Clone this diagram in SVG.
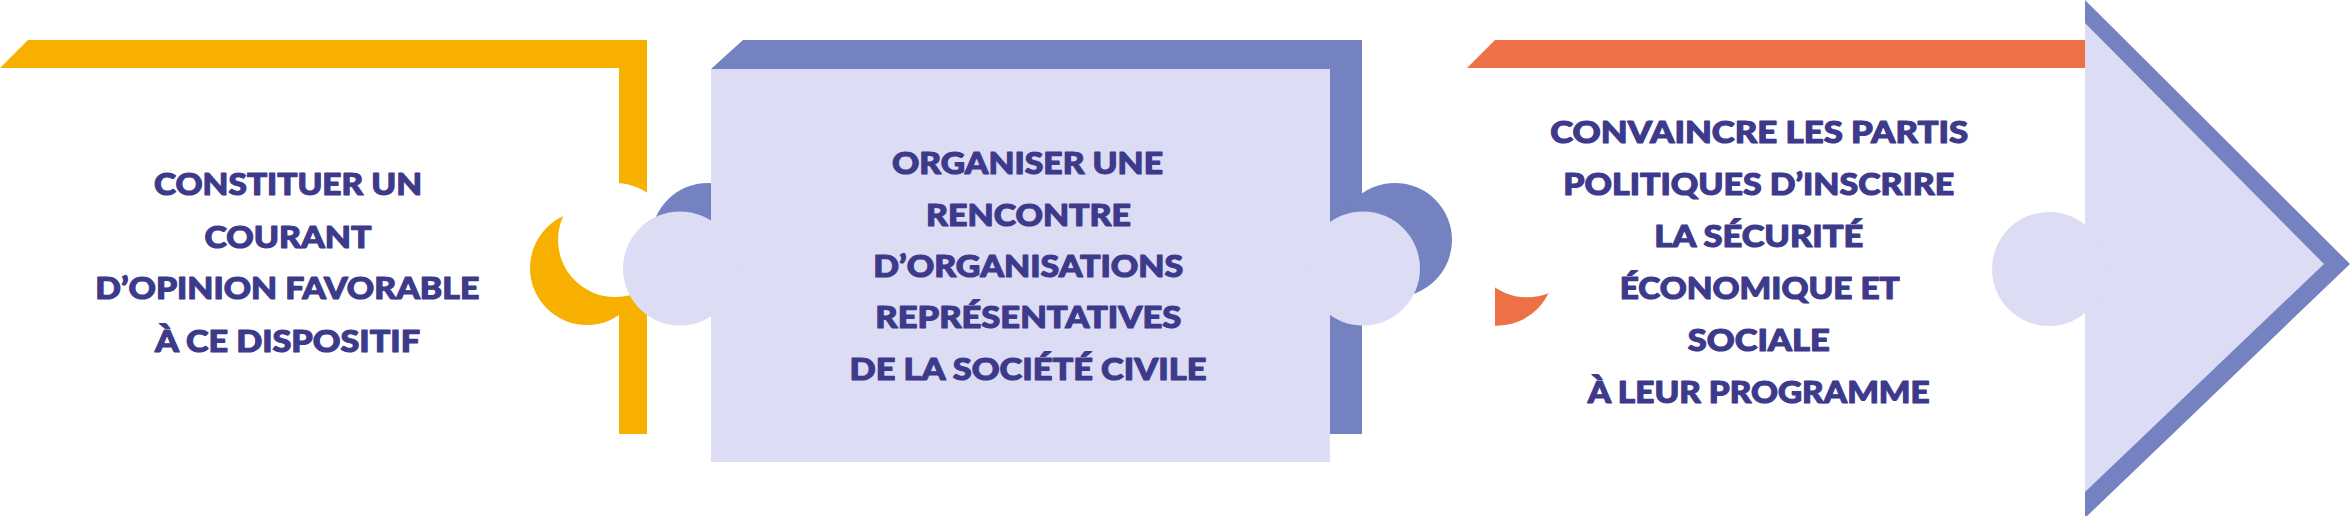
<svg xmlns="http://www.w3.org/2000/svg" width="2350" height="516" viewBox="0 0 2350 516">
<style>
.yl{fill:#F7AF00}
.pu{fill:#7482C1}
.lv{fill:#DCDDF4}
.or{fill:#EE7047}
.wh{fill:#FFFFFF}
.t{font-family:Lato,"Open Sans","Liberation Sans",sans-serif;font-weight:900;font-size:30px;fill:#3D3A8B;stroke:#3D3A8B;stroke-width:1.1px;stroke-linejoin:round;text-anchor:middle}
</style>
<defs>
<clipPath id="c3clip"><rect x="1495" y="200" width="120" height="140"/></clipPath>
</defs>
<rect width="2350" height="516" fill="#FFFFFF"/>
<g id="card1">
<path class="yl" d="M0,68 L28,40 L647,40 L647,434 L619,434 L619,68 Z"/>
<circle class="yl" cx="587" cy="268" r="57"/>
<circle class="wh" cx="615" cy="240" r="57"/>
<text class="t" x="288" y="195" textLength="268" lengthAdjust="spacingAndGlyphs">CONSTITUER UN</text>
<text class="t" x="288" y="247.7" textLength="167" lengthAdjust="spacingAndGlyphs">COURANT</text>
<text class="t" x="287.3" y="299.3" textLength="384" lengthAdjust="spacingAndGlyphs">D’OPINION FAVORABLE</text>
<text class="t" x="287.5" y="351.7" textLength="265" lengthAdjust="spacingAndGlyphs">À CE DISPOSITIF</text>
</g>
<g id="card2">
<path class="pu" d="M711,69 L743,40 L1362,40 L1362,434 L1330,434 L1330,69 Z"/>
<circle class="pu" cx="708" cy="240" r="57"/>
<circle class="pu" cx="1395" cy="240" r="57"/>
<rect class="lv" x="711" y="69" width="619" height="393"/>
<circle class="lv" cx="680" cy="268.5" r="57"/>
<circle class="lv" cx="1363" cy="268.5" r="57"/>
<text class="t" x="1027.5" y="174.3" textLength="271" lengthAdjust="spacingAndGlyphs">ORGANISER UNE</text>
<text class="t" x="1028.5" y="225.7" textLength="205" lengthAdjust="spacingAndGlyphs">RENCONTRE</text>
<text class="t" x="1028.3" y="276.7" textLength="310" lengthAdjust="spacingAndGlyphs">D’ORGANISATIONS</text>
<text class="t" x="1028.3" y="328.3" textLength="306" lengthAdjust="spacingAndGlyphs">REPRÉSENTATIVES</text>
<text class="t" x="1028" y="380" textLength="357" lengthAdjust="spacingAndGlyphs">DE LA SOCIÉTÉ CIVILE</text>
</g>
<g id="card3">
<path class="or" d="M1467,68 L1495,40 L2086,40 L2086,68 Z"/>
<circle class="or" cx="1497" cy="268.7" r="57" clip-path="url(#c3clip)"/>
<circle class="wh" cx="1527" cy="240.3" r="57"/>
<text class="t" x="1759.2" y="142.7" textLength="418" lengthAdjust="spacingAndGlyphs">CONVAINCRE LES PARTIS</text>
<text class="t" x="1758.8" y="195" textLength="391" lengthAdjust="spacingAndGlyphs">POLITIQUES D’INSCRIRE</text>
<text class="t" x="1758.8" y="246.7" textLength="209" lengthAdjust="spacingAndGlyphs">LA SÉCURITÉ</text>
<text class="t" x="1759.7" y="299" textLength="280" lengthAdjust="spacingAndGlyphs">ÉCONOMIQUE ET</text>
<text class="t" x="1758.8" y="350.7" textLength="142" lengthAdjust="spacingAndGlyphs">SOCIALE</text>
<text class="t" x="1758.7" y="402.7" textLength="342" lengthAdjust="spacingAndGlyphs">À LEUR PROGRAMME</text>
</g>
<g id="arrow">
<polygon class="pu" points="2085,0 2350,264 2085,518"/>
<polygon class="lv" points="2085,23 2324,264 2085,492"/>
<circle class="lv" cx="2049" cy="269" r="57"/>
</g>
<g id="connectors"/>
</svg>
